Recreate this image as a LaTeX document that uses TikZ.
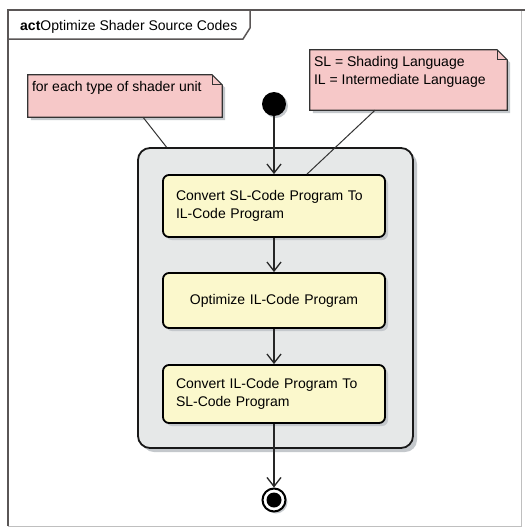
\documentclass[tikz,border=0pt]{standalone}
\usepackage{fontspec}
\setmainfont{Liberation Sans}
\usetikzlibrary{arrows.meta,shadows}
\definecolor{notefill}{HTML}{F6C8C8}
\definecolor{actfill}{HTML}{FBF8CC}
\definecolor{contfill}{HTML}{E6E8E8}
\definecolor{shadowc}{HTML}{C4C8CC}
\definecolor{framegray}{HTML}{5A5656}
\newcommand\umlnote[1]{%
  \path[fill=notefill, draw=black!80, line width=1.2pt,
        drop shadow={shadow xshift=3pt, shadow yshift=-3pt, fill=shadowc, opacity=1}]
    (#1.south west) -- (#1.north west) -- ([xshift=-10pt]#1.north east)
    -- ([yshift=-10pt]#1.north east) -- (#1.south east) -- cycle;
  \draw[black!80, line width=1pt] ([xshift=-10pt]#1.north east)
    -- ([xshift=-10pt,yshift=-10pt]#1.north east) -- ([yshift=-10pt]#1.north east);
}
\tikzset{
  notebox/.style={draw=none, inner sep=0pt, rectangle},
  notetext/.style={inner sep=0pt, anchor=north west, align=left, font=\fontsize{14}{18}\selectfont},
  container/.style={rectangle, rounded corners=12pt, draw=black!90, line width=1.8pt,
     fill=contfill, inner sep=0pt, minimum width=275pt, minimum height=300pt,
     drop shadow={shadow xshift=4pt, shadow yshift=-4pt, fill=shadowc, opacity=1}},
  action/.style={rectangle, rounded corners=6pt, draw=black, line width=1.8pt,
     fill=actfill, inner xsep=13pt, inner ysep=0pt, minimum width=222pt,
     text width=196pt, font=\fontsize{14}{18}\selectfont,
     drop shadow={shadow xshift=3pt, shadow yshift=-3pt, fill=shadowc, opacity=1}},
  initnode/.style={circle, fill=black, inner sep=0pt, minimum size=24pt,
     drop shadow={shadow xshift=2pt, shadow yshift=-2pt, fill=shadowc, opacity=1}},
  finalnode/.style={circle, draw=black, line width=2pt, fill=white, inner sep=0pt, minimum size=23pt,
     path picture={\fill[black] (path picture bounding box.center) circle (7.5pt);},
     drop shadow={shadow xshift=2pt, shadow yshift=-2pt, fill=shadowc, opacity=1}},
  flow/.style={draw=black!85, line width=1.3pt, -{Straight Barb[length=9pt,width=14pt,line width=1.3pt]}},
  noteln/.style={draw=black!80, line width=1pt}
}
\begin{document}
\begin{tikzpicture}[x=1pt,y=-1pt]
\useasboundingbox (0,0) rectangle (525,528);
\fill[white] (0,0) rectangle (525,528);
% frame
\draw[black!25, line width=1pt] (8,10) rectangle (521,526);
\draw[framegray, line width=1.8pt] (8,526) -- (8,10) -- (525,10);
\draw[framegray, line width=1.5pt] (8,39) -- (243,39) -- (250,28) -- (250,10);
\node[anchor=base west, inner sep=0pt, font=\fontsize{14}{16}\selectfont] (title) at (20,30)
  {\textbf{act}Optimize Shader Source Codes};
% container
\node[container] (cont) at (275.5,298) {};
% notes
\node[notebox, minimum width=194pt, minimum height=42pt] (n1) at (125,96) {};
\umlnote{n1}
\node[notetext] (n1t) at ([xshift=4pt,yshift=-6pt]n1.north west) {for each type of shader unit};
\node[notebox, minimum width=197pt, minimum height=60pt] (n2) at (408.5,80) {};
\umlnote{n2}
\node[notetext] (n2t) at ([xshift=4pt,yshift=-6pt]n2.north west) {SL = Shading Language\\IL = Intermediate Language};
% actions
\node[action, minimum height=62pt, align=left] (a1) at (274,206) {Convert SL-Code Program To\\IL-Code Program};
\node[action, minimum height=55pt, align=center] (a2) at (274,300.5) {Optimize IL-Code Program};
\node[action, minimum height=58pt, align=left] (a3) at (274,394) {Convert IL-Code Program To\\SL-Code Program};
% initial / final
\node[initnode] (init) at (274,104) {};
\node[finalnode] (fin) at (274,500) {};
% flows
\draw[flow] (init) -- (a1);
\draw[flow] (a1) -- (a2);
\draw[flow] (a2) -- (a3);
\draw[flow] (a3) -- (fin);
% note links
\draw[noteln] ([xshift=18pt]n1.south) -- ([xshift=-109pt]cont.north);
\draw[noteln] ([xshift=-33.5pt]n2.south) -- ([xshift=33pt]a1.north);
\end{tikzpicture}
\end{document}
